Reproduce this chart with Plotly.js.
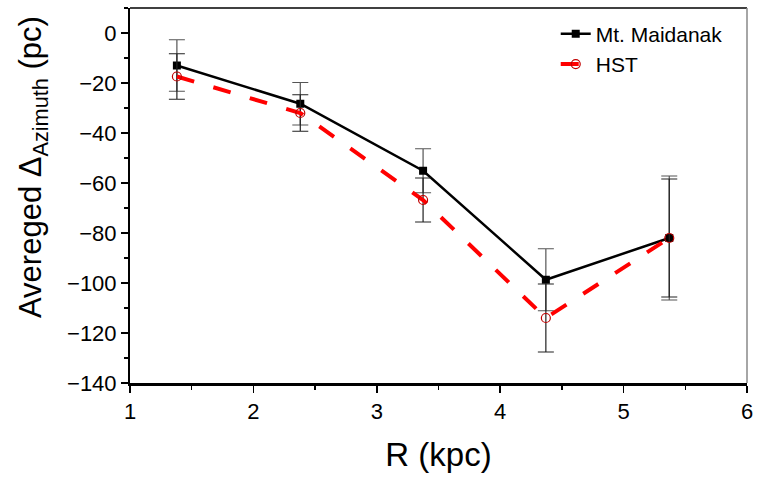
<!DOCTYPE html>
<html>
<head>
<meta charset="utf-8">
<script src="https://cdn.plot.ly/plotly-3.0.1.min.js"></script>
<style>
  body { margin: 0; background: #fff; }
  #chart { width: 759px; height: 478px; }
</style>
</head>
<body>
<div id="chart"></div>
<script>
// radius bins (kpc)
var rKpc = [1.38, 2.38, 3.375, 4.37, 5.37];

// Mt. Maidanak
var maidanak = [-13.0, -28.3, -55.1, -98.7, -82.0];
var maidanakErr = [10.3, 8.5, 8.8, 12.4, 24.8];

// HST
var hst = [-17.4, -32.0, -66.8, -114.0, -82.0];
var hstErr = [9.1, 7.3, 8.8, 13.6, 23.6];

var fontFam = 'Liberation Sans, Arial, sans-serif';

var traceMaidanak = {
    x: rKpc,
    y: maidanak,
    name: 'Mt. Maidanak',
    mode: 'lines+markers',
    type: 'scatter',
    line: { color: 'black', width: 2.5 },
    marker: { symbol: 'square', size: 8, color: 'black' },
    error_y: { type: 'data', array: maidanakErr, visible: true,
               color: '#555555', thickness: 1.2, width: 8 }
};
var traceHst = {
    x: rKpc,
    y: hst,
    name: 'HST',
    mode: 'lines+markers',
    type: 'scatter',
    line: { color: '#ff0000', width: 4, dash: '18px,20px' },
    marker: { symbol: 'circle-open', size: 9, color: '#c00000',
              line: { width: 1.2, color: '#c00000' } },
    error_y: { type: 'data', array: hstErr, visible: true,
               color: '#222222', thickness: 1.2, width: 8 }
};

var tickFont = { family: fontFam, size: 22, color: 'black' };

var layout = {
    width: 759,
    height: 478,
    margin: { l: 130, r: 12, t: 8, b: 95 },
    paper_bgcolor: 'white',
    plot_bgcolor: 'white',
    showlegend: true,
    legend: {
        x: 0.69, y: 0.985, xanchor: 'left', yanchor: 'top',
        bgcolor: 'rgba(0,0,0,0)',
        font: { family: fontFam, size: 21, color: 'black' },
        tracegroupgap: 0
    },
    xaxis: {
        range: [1, 6],
        dtick: 1,
        showgrid: false,
        zeroline: false,
        showline: true,
        linecolor: 'black',
        linewidth: 2.5,
        ticks: 'outside',
        ticklen: 7,
        tickwidth: 1.5,
        tickcolor: 'black',
        tickfont: tickFont,
        minor: { dtick: 0.5, ticks: 'outside', ticklen: 4, tickwidth: 1.5, tickcolor: 'black', showgrid: false },
        title: {
            text: 'R (kpc)',
            font: { family: fontFam, size: 33, color: 'black' },
            standoff: 20
        }
    },
    yaxis: {
        range: [-140, 10],
        dtick: 20,
        showgrid: false,
        zeroline: false,
        showline: true,
        linecolor: 'black',
        linewidth: 2,
        ticks: 'outside',
        ticklen: 7,
        tickwidth: 1.5,
        tickcolor: 'black',
        tickfont: tickFont,
        minor: { dtick: 10, ticks: 'outside', ticklen: 4, tickwidth: 1.5, tickcolor: 'black', showgrid: false }
    },
    annotations: [
        { text: 'Avereged \u0394<sub>Azimuth</sub> (pc)',
          xref: 'paper', yref: 'paper', x: 0, y: 0.576,
          xanchor: 'center', yanchor: 'middle', xshift: -97,
          textangle: -90, showarrow: false,
          font: { family: fontFam, size: 31, color: 'black' } }
    ],
    shapes: [
        { type: 'line', xref: 'paper', yref: 'paper', x0: 0, x1: 1, y0: 1, y1: 1,
          line: { color: 'black', width: 1.5 } },
        { type: 'line', xref: 'paper', yref: 'paper', x0: 1, x1: 1, y0: 0, y1: 1,
          line: { color: '#888888', width: 1.5 } }
    ]
};

Plotly.newPlot('chart', [traceMaidanak, traceHst], layout, { displayModeBar: false, staticPlot: true });
</script>
</body>
</html>
